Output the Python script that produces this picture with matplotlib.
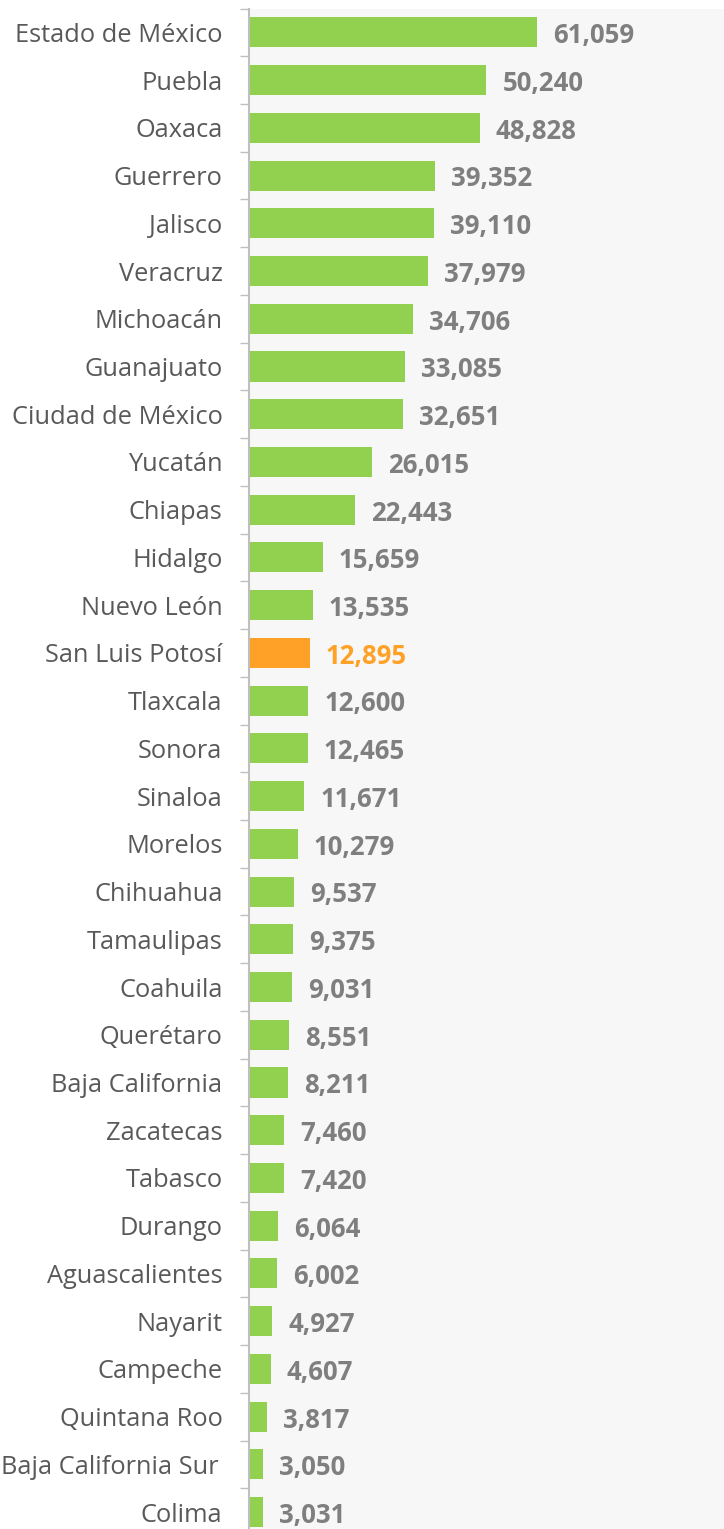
import matplotlib.pyplot as plt
import numpy as np

plt.rcParams['font.family'] = ['Open Sans', 'DejaVu Sans']

states = ["Estado de México", "Puebla", "Oaxaca", "Guerrero", "Jalisco", "Veracruz",
          "Michoacán", "Guanajuato", "Ciudad de México", "Yucatán", "Chiapas", "Hidalgo",
          "Nuevo León", "San Luis Potosí", "Tlaxcala", "Sonora", "Sinaloa", "Morelos",
          "Chihuahua", "Tamaulipas", "Coahuila", "Querétaro", "Baja California",
          "Zacatecas", "Tabasco", "Durango", "Aguascalientes", "Nayarit", "Campeche",
          "Quintana Roo", "Baja California Sur\u2009", "Colima"]
values = [61059, 50240, 48828, 39352, 39110, 37979, 34706, 33085, 32651, 26015,
          22443, 15659, 13535, 12895, 12600, 12465, 11671, 10279, 9537, 9375,
          9031, 8551, 8211, 7460, 7420, 6064, 6002, 4927, 4607, 3817, 3050, 3031]
highlight = "San Luis Potosí"

green = "#92D050"
orange = "#FFA126"

fig = plt.figure(figsize=(7.24, 15.29), dpi=100)
ax = fig.add_axes([249 / 724, -7 / 1529, 475 / 724, 1527.5 / 1529])
ax.set_facecolor("#F7F7F7")

y = np.arange(len(states))
colors = [orange if s == highlight else green for s in states]
ax.barh(y, values, height=0.63, color=colors, zorder=2)

for yi, v, s in zip(y, values, states):
    c = orange if s == highlight else "#7F7F7F"
    ax.text(v + 3400, yi + 0.07, f"{v:,}", va="center", ha="left",
            fontsize=18.5, fontweight="bold", color=c)

ax.set_xlim(0, 100600)
ax.set_ylim(len(states) - 0.5, -0.5)

ax.set_yticks(y)
ax.set_yticklabels(states, fontsize=18.3, color="#595959")
ax.tick_params(axis="y", which="major", length=0, pad=19)
ax.set_yticks(np.arange(-0.5, len(states), 1), minor=True)
ax.tick_params(axis="y", which="minor", length=6.5, width=1, color="#BFBFBF")
ax.set_xticks([])

for side in ["top", "right", "bottom"]:
    ax.spines[side].set_visible(False)
ax.spines["left"].set_color("#BFBFBF")
ax.spines["left"].set_linewidth(1.5)

plt.savefig("out.png", dpi=100)
